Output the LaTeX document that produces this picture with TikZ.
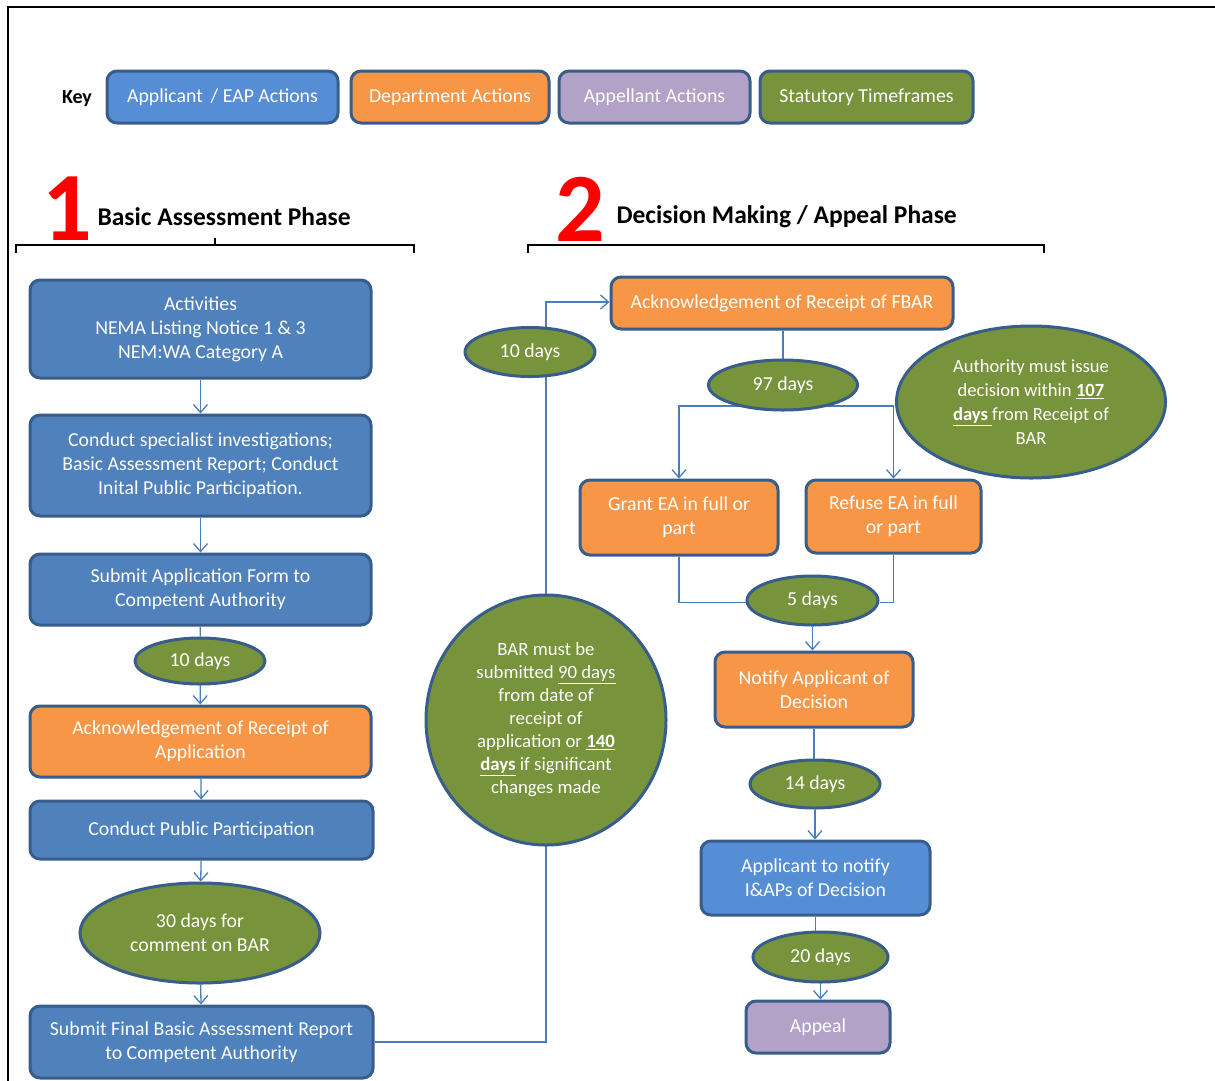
\documentclass[tikz,border=0pt]{standalone}
\usepackage{fontspec}
\setmainfont{Carlito}
\usepackage{xcolor}
\definecolor{boxblue}{HTML}{4F81BD}
\definecolor{keyblue}{HTML}{558ED5}
\definecolor{deporange}{HTML}{F79646}
\definecolor{appelpurple}{HTML}{B3A2C7}
\definecolor{timegreen}{HTML}{77933C}
\definecolor{edgeblue}{HTML}{385D8A}
\definecolor{lineblue}{HTML}{4A7EBB}
\definecolor{phasered}{HTML}{FF0000}
\usetikzlibrary{shapes.geometric}
\usetikzlibrary{arrows.meta}
\usetikzlibrary{positioning}
\usetikzlibrary{backgrounds}
\usetikzlibrary{calc}

\tikzset{
  box/.style={rectangle,rounded corners=10pt,draw=edgeblue,line width=3pt,text=white,align=center,inner sep=2pt,font=\fontsize{19.8}{24}\selectfont},
  applicant/.style={box,fill=boxblue},
  department/.style={box,fill=deporange},
  appellant/.style={box,fill=appelpurple},
  timeframe/.style={ellipse,draw=edgeblue,line width=3pt,fill=timegreen,text=white,align=center,inner sep=0pt,font=\fontsize{19.8}{24}\selectfont},
  link/.style={draw=lineblue,line width=1.3pt},
  linkarrow/.style={link,-{Straight Barb[length=8pt,width=14pt,line width=1.3pt]}},
  phasebrace/.style={draw=black,line width=2pt},
}

\begin{document}
\begin{tikzpicture}[x=1pt,y=-1pt]
\useasboundingbox (0,0) rectangle (1215,1080);
\begin{scope}
\clip (0,0) rectangle (1215,1080);
\draw[line width=2pt] (8,1100) -- (8,7) -- (1230,7);
\end{scope}

% key
\node[font=\fontsize{20}{22}\selectfont\bfseries] (keylabel) at (77,99) {Key};
\node[box,fill=keyblue,minimum width=231pt,minimum height=52pt] (kapp) at (222.5,97) {Applicant\, / EAP Actions};
\node[department,minimum width=198pt,minimum height=52pt] (kdep) at (450,97) {Department Actions};
\node[appellant,minimum width=191pt,minimum height=52pt] (kappel) at (654.5,97) {Appellant Actions};
\node[box,fill=timegreen,minimum width=213pt,minimum height=52pt] (kstat) at (866.5,97) {Statutory Timeframes};

% phase headings
\node[text=phasered,font=\fontsize{98}{98}\selectfont\bfseries] (one) at (67,209) {1};
\node[anchor=west,font=\fontsize{25.5}{28}\selectfont\bfseries] (phaseone) at (94,217) {Basic Assessment Phase};
\node[text=phasered,font=\fontsize{98}{98}\selectfont\bfseries] (two) at (580,209) {2};
\node[anchor=west,font=\fontsize{25.5}{28}\selectfont\bfseries] (phasetwo) at (613,217) {Decision Making / Appeal Phase};
\draw[phasebrace] (16,253) -- (16,245) -- (414,245) -- (414,253);
\draw[phasebrace] (215,245) -- (215,238);
\draw[phasebrace] (528,253) -- (528,245) -- (1044,245) -- (1044,253);

% phase 1
\node[applicant,minimum width=341pt,minimum height=98pt] (activities) at (200.5,329) {Activities\\NEMA Listing Notice 1 \& 3\\NEM:WA Category A};
\node[applicant,minimum width=341pt,minimum height=101pt] (specialist) at (200.5,465.5) {Conduct specialist investigations;\\Basic Assessment Report; Conduct\\Inital Public Participation.};
\node[applicant,minimum width=341pt,minimum height=71pt] (submitapp) at (200.5,589.5) {Submit Application Form to\\Competent Authority};
\node[timeframe,minimum width=130pt,minimum height=46pt] (tenA) at (200,661) {10 days};
\node[department,minimum width=341pt,minimum height=71pt] (ackapp) at (200.5,741.5) {Acknowledgement of Receipt of\\Application};
\node[applicant,minimum width=343pt,minimum height=58pt] (publicpart) at (201.5,830) {Conduct Public Participation};
\node[timeframe,minimum width=240pt,minimum height=100pt] (thirty) at (200,933) {30 days for\\comment on BAR};
\node[applicant,minimum width=343pt,minimum height=72pt] (submitfinal) at (201.5,1042) {Submit Final Basic Assessment Report\\to Competent Authority};

\draw[linkarrow] (activities) -- (specialist);
\draw[linkarrow] (specialist) -- (submitapp);
\draw[link] (submitapp) -- (tenA);
\draw[linkarrow] (tenA) -- (ackapp);
\draw[linkarrow] (ackapp) -- (publicpart);
\draw[linkarrow] (publicpart) -- (thirty);
\draw[linkarrow] (thirty) -- (submitfinal);

% phase 2
\node[department,minimum width=342pt,minimum height=52pt] (ackfbar) at (782,303) {Acknowledgement of Receipt of FBAR};
\node[timeframe,minimum width=130pt,minimum height=49pt] (tenB) at (530,352) {10 days};
\node[timeframe,minimum width=240pt,minimum height=250pt,font=\fontsize{18.8}{23}\selectfont] (barlimit) at (546,720) {BAR must be\\submitted \underline{90 days}\\from date of\\receipt of\\application or \underline{\textbf{140}}\\\underline{\textbf{days}} if significant\\changes made};
\coordinate (upturn) at (546,302);

\node[timeframe,minimum width=149pt,minimum height=50pt] (ninetyseven) at (783,385) {97 days};
\node[timeframe,minimum width=269pt,minimum height=152pt,font=\fontsize{18.6}{24}\selectfont] (authority) at (1031,402) {Authority must issue\\decision within \underline{\textbf{107}}\\\underline{\textbf{days }}from Receipt of\\BAR};
\node[department,minimum width=198pt,minimum height=75pt] (grant) at (679,517.5) {Grant EA in full or\\part};
\node[department,minimum width=175pt,minimum height=73pt] (refuse) at (893.5,516.5) {Refuse EA in full\\or part};
\node[timeframe,minimum width=131pt,minimum height=49pt] (five) at (812.5,600.5) {5 days};
\node[department,minimum width=198pt,minimum height=75pt] (notify) at (814,689.5) {Notify Applicant of\\Decision};
\node[timeframe,minimum width=130pt,minimum height=48pt] (fourteen) at (815,784) {14 days};
\node[box,fill=keyblue,minimum width=229pt,minimum height=74pt] (iaps) at (815.5,878) {Applicant to notify\\I\&APs of Decision};
\node[timeframe,minimum width=135pt,minimum height=50pt] (twenty) at (820.5,957) {20 days};
\node[appellant,minimum width=144pt,minimum height=52pt] (appeal) at (818,1027) {Appeal};

\begin{scope}[on background layer]
\draw[linkarrow] (submitfinal.east) -| (upturn) -- (ackfbar.west |- upturn);
\draw[link] (ackfbar.south -| ninetyseven) -- (ninetyseven);
\draw[linkarrow] ([yshift=-21pt]ninetyseven.center) -| (grant.north);
\draw[linkarrow] ([yshift=-21pt]ninetyseven.center) -| (refuse.north);
\draw[link] (grant.south) |- ([yshift=-2pt]five.west);
\draw[link] (refuse.south) |- ([yshift=-2pt]five.east);
\end{scope}
\draw[linkarrow] (five) -- (five |- notify.north);
\draw[link] (notify) -- (notify |- fourteen.north);
\draw[linkarrow] (fourteen) -- (fourteen |- iaps.north);
\draw[link] (iaps) -- (iaps |- twenty.north);
\draw[linkarrow] (twenty) -- (twenty |- appeal.north);
\end{tikzpicture}
\end{document}
